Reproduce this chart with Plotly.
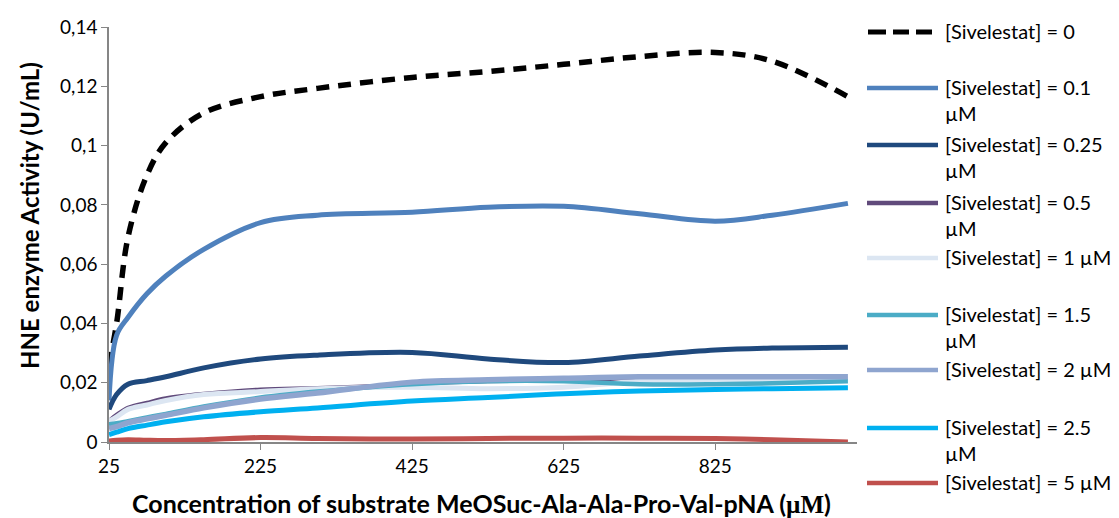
import plotly.graph_objects as go

# Substrate concentrations (µM) at which activity was read
substrate = [25, 35, 50, 75, 100, 150, 225, 300, 425, 525, 625, 725, 825, 900, 1000]

# HNE activity (U/mL) for each Sivelestat concentration
act_0 = [0.026, 0.040, 0.069, 0.090, 0.101, 0.111, 0.1165, 0.1193, 0.1230, 0.1250, 0.1274, 0.1300, 0.1314, 0.1285, 0.1165]
act_0_1 = [0.014, 0.036, 0.042, 0.050, 0.056, 0.065, 0.0740, 0.0765, 0.0775, 0.0792, 0.0795, 0.0770, 0.0745, 0.0765, 0.0805]
act_0_25 = [0.011, 0.016, 0.0195, 0.0207, 0.022, 0.025, 0.028, 0.0293, 0.0302, 0.028, 0.0268, 0.029, 0.031, 0.0317, 0.032]
act_0_5 = [0.0075, 0.0095, 0.0118, 0.0135, 0.015, 0.0165, 0.018, 0.0185, 0.0195, 0.0202, 0.0205, 0.0208, 0.0209, 0.021, 0.0215]
act_1 = [0.007, 0.0085, 0.011, 0.0125, 0.014, 0.016, 0.017, 0.018, 0.0185, 0.018, 0.0185, 0.0205, 0.021, 0.0212, 0.0215]
act_1_5 = [0.006, 0.0063, 0.007, 0.0083, 0.0095, 0.012, 0.015, 0.017, 0.0195, 0.0205, 0.0205, 0.0195, 0.0195, 0.0198, 0.0205]
act_2 = [0.0045, 0.0052, 0.0065, 0.0078, 0.009, 0.0115, 0.0145, 0.0165, 0.0202, 0.021, 0.0215, 0.022, 0.022, 0.022, 0.022]
act_2_5 = [0.0025, 0.0033, 0.0045, 0.0057, 0.0068, 0.0085, 0.0102, 0.0115, 0.0138, 0.015, 0.0163, 0.0172, 0.0177, 0.018, 0.0183]
act_5 = [0.0003, 0.0006, 0.0008, 0.0006, 0.0005, 0.0008, 0.0015, 0.0012, 0.0010, 0.0012, 0.0013, 0.0013, 0.0012, 0.0008, 0.0]

legend_labels = [
    "[Sivelestat] = 0",
    "[Sivelestat] = 0.1<br>µM",
    "[Sivelestat] = 0.25<br>µM",
    "[Sivelestat] = 0.5<br>µM",
    "[Sivelestat] = 1 µM",
    "[Sivelestat] = 1.5<br>µM",
    "[Sivelestat] = 2 µM",
    "[Sivelestat] = 2.5<br>µM",
    "[Sivelestat] = 5 µM",
]

x_ticks = [25, 225, 425, 625, 825]
y_ticks = [0, 0.02, 0.04, 0.06, 0.08, 0.10, 0.12, 0.14]
y_ticktext = ["0", "0,02", "0,04", "0,06", "0,08", "0,1", "0,12", "0,14"]

series = [act_0, act_0_1, act_0_25, act_0_5, act_1, act_1_5, act_2, act_2_5, act_5]
colors = ["#000000", "#4F81BD", "#1F497D", "#604A7B", "#DCE6F2",
          "#4BACC6", "#8FA5CF", "#00B0F0", "#C0504D"]
widths = [5.5, 5, 5, 2.5, 5, 4.5, 5.5, 5, 5]

FONT = "Lato"
W, H = 1119, 518
L, R, T, B = 109, 262, 27, 76
PW, PH = W - L - R, H - T - B


def px_x(px):
    return (px - L) / PW


def px_y(py):
    return (H - B - py) / PH


fig = go.Figure()
for vals, col, w in zip(series, colors, widths):
    fig.add_trace(go.Scatter(
        x=substrate, y=vals, mode="lines",
        line=dict(color=col, width=w, shape="spline", smoothing=1,
                  dash="13px,9px" if col == "#000000" else "solid"),
        showlegend=False, hoverinfo="skip",
    ))

# Legend drawn by hand: line sample + wrapped label
legend_y = [32, 88, 145, 203, 258, 315, 370, 428, 483]
shapes = []
annotations = []
for lab, col, ly in zip(legend_labels, colors, legend_y):
    if col == "#000000":
        for a, b in [(868, 886), (893, 909), (916, 932)]:
            shapes.append(dict(type="line", xref="paper", yref="paper",
                               x0=px_x(a), x1=px_x(b), y0=px_y(ly), y1=px_y(ly),
                               line=dict(color=col, width=5)))
    else:
        shapes.append(dict(type="line", xref="paper", yref="paper",
                           x0=px_x(867), x1=px_x(938), y0=px_y(ly), y1=px_y(ly),
                           line=dict(color=col, width=4.5)))
    annotations.append(dict(
        text=lab, xref="paper", yref="paper", x=px_x(943), y=px_y(ly - 15),
        xanchor="left", yanchor="top", align="left", showarrow=False,
        font=dict(family=FONT, size=20, color="#000000"),
    ))

annotations.append(dict(
    text="<b>HNE enzyme Activity (U/mL)</b>", xref="paper", yref="paper",
    x=px_x(30), y=px_y(216), textangle=-90, showarrow=False,
    xanchor="center", yanchor="middle",
    font=dict(family=FONT, size=24, color="#000000"),
))
annotations.append(dict(
    text="<b>Concentration of substrate MeOSuc-Ala-Ala-Pro-Val-pNA (</b>"
         "<span style=\"font-family:'Liberation Serif'\"><b>µM</b></span><b>)</b>",
    xref="paper", yref="paper", x=px_x(481), y=px_y(503), showarrow=False,
    xanchor="center", yanchor="middle",
    font=dict(family=FONT, size=25, color="#000000"),
))

fig.update_layout(
    width=W, height=H,
    margin=dict(l=L, r=R, t=T, b=B, pad=0),
    paper_bgcolor="white", plot_bgcolor="white",
    shapes=shapes, annotations=annotations,
    xaxis=dict(range=[25, 1012], tickvals=x_ticks, ticktext=[str(v) for v in x_ticks],
               showgrid=False, zeroline=False, showline=True, linecolor="#868686",
               linewidth=1.5, ticks="outside", ticklen=6, tickcolor="#868686",
               tickfont=dict(family=FONT, size=19, color="#000000")),
    yaxis=dict(range=[0, 0.14], tickvals=y_ticks, ticktext=y_ticktext,
               showgrid=False, zeroline=False, showline=True, linecolor="#868686",
               linewidth=1.5, ticks="outside", ticklen=6, tickcolor="#868686",
               tickfont=dict(family=FONT, size=19, color="#000000")),
)

fig.write_html("out.html")
